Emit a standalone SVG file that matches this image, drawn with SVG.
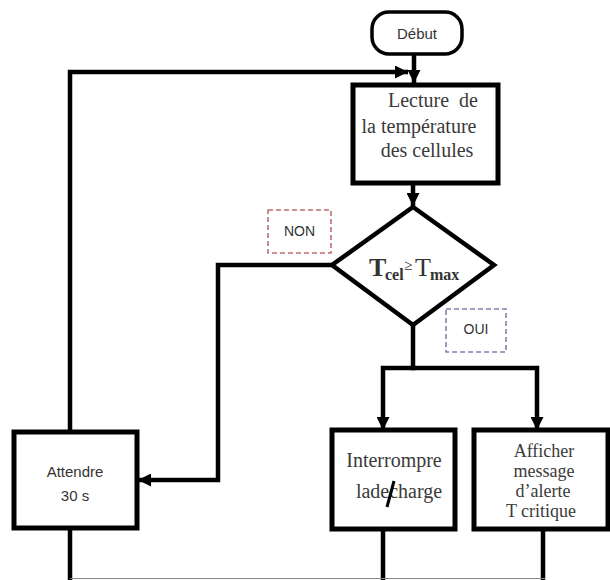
<svg xmlns="http://www.w3.org/2000/svg" width="610" height="580" viewBox="0 0 610 580">
<defs>
<style>
.box{fill:#fff;stroke:#000;stroke-width:5}
.conn{fill:none;stroke:#000;stroke-width:4.5}
.serif{font-family:"Liberation Serif","Times New Roman",serif;fill:#3a3a3a;text-anchor:middle}
.sans{font-family:"Liberation Sans",Arial,sans-serif;fill:#333;text-anchor:middle}
.lbl{fill:none;stroke-width:1.6;stroke-dasharray:5,3}
</style>
<marker id="ah" viewBox="0 0 10 10" refX="10" refY="5" markerWidth="13" markerHeight="13" markerUnits="userSpaceOnUse" orient="auto">
<path d="M0,0 L10,5 L0,10 z" fill="#000"/>
</marker>
</defs>
<rect width="610" height="580" fill="#fff"/>

<g id="connectors">
<path class="conn" d="M414,54 V83" marker-end="url(#ah)"/>
<path class="conn" d="M70,432 V72 H408" marker-end="url(#ah)"/>
<path class="conn" d="M413,183 V206" marker-end="url(#ah)"/>
<path class="conn" d="M332,265 H218 V480 H138" marker-end="url(#ah)"/>
<path class="conn" d="M413,325 V368 H383 V430" marker-end="url(#ah)"/>
<path class="conn" d="M411,368 H537 V430" marker-end="url(#ah)"/>
<path class="conn" d="M70,528 V580"/>
<path class="conn" d="M383,529 V580"/>
<path class="conn" d="M543,529 V580"/>
<path d="M70,578.5 H545" stroke="#888" stroke-width="1.2" fill="none"/>
</g>

<g id="debut">
<rect x="372" y="12" width="90" height="42" rx="17" ry="17" fill="#fff" stroke="#000" stroke-width="3.5"/>
<text class="sans" x="417" y="39" font-size="15">Début</text>
</g>

<g id="lecture">
<rect class="box" x="353" y="85" width="145" height="98"/>
<text class="serif" x="433" y="107" font-size="20" xml:space="preserve">Lecture  de</text>
<text class="serif" x="419" y="133" font-size="20">la température</text>
<text class="serif" x="427" y="157" font-size="20">des cellules</text>
</g>

<g id="decision">
<polygon points="413,207 494,265 413,325 332,265" fill="#fff" stroke="#000" stroke-width="4.5" stroke-linejoin="miter"/>
<text font-family="Liberation Serif,'Times New Roman',serif" fill="#333">
<tspan x="369" y="276" font-size="26" font-weight="bold">T</tspan><tspan x="385" y="280" font-size="16" font-weight="bold">cel</tspan><tspan x="404" y="270" font-size="15">≥</tspan><tspan x="415" y="276" font-size="26">T</tspan><tspan x="430" y="280" font-size="16" font-weight="bold">max</tspan>
</text>
</g>

<g id="label-non">
<rect class="lbl" x="268" y="210" width="63" height="43" stroke="#c07070"/>
<text class="sans" x="299.5" y="236" font-size="14">NON</text>
</g>

<g id="label-oui">
<rect class="lbl" x="446" y="309" width="60" height="43" stroke="#8080a8"/>
<text class="sans" x="476" y="334" font-size="14">OUI</text>
</g>

<g id="interrompre">
<rect class="box" x="332" y="430" width="123" height="99"/>
<text class="serif" x="394" y="467" font-size="20">Interrompre</text>
<text class="serif" x="399" y="498" font-size="20">ladecharge</text>
<line x1="394" y1="481" x2="387" y2="507" stroke="#000" stroke-width="3"/>
</g>

<g id="afficher">
<rect class="box" x="474" y="430" width="134" height="99"/>
<text class="serif" x="544" y="457" font-size="18">Afficher</text>
<text class="serif" x="544" y="477" font-size="18">message</text>
<text class="serif" x="543" y="497" font-size="18">d’alerte</text>
<text class="serif" x="541" y="517" font-size="18">T critique</text>
</g>

<g id="attendre">
<rect class="box" x="14" y="432" width="123" height="96"/>
<text class="sans" x="75" y="477" font-size="15">Attendre</text>
<text class="sans" x="75" y="501" font-size="15">30 s</text>
</g>
</svg>
